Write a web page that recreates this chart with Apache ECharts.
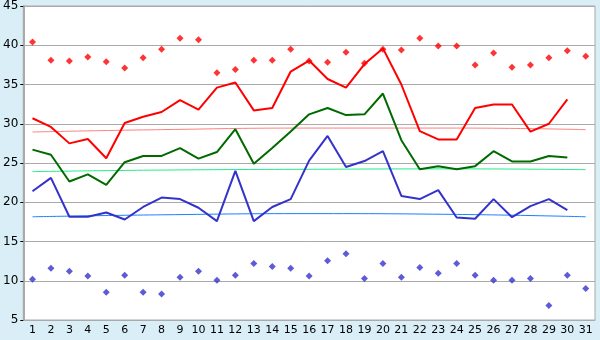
<!DOCTYPE html>
<html>
<head>
    <meta charset="UTF-8">
    <title></title>
    <script src="https://cdn.jsdelivr.net/npm/echarts@6/dist/echarts.min.js"></script>
    <style>
        *{margin:0;padding:0;}
        body,html{ width:600px; height:340px; background:#d9eef6; }
        #main{ width:600px; height:340px; }
    </style>
</head>
<body>
<div id="main"></div>
<script>
    // 日期 1..31
    var days = ['1','2','3','4','5','6','7','8','9','10','11','12','13','14','15','16',
        '17','18','19','20','21','22','23','24','25','26','27','28','29','30','31'];

    // 折线
    var redLine = [30.7,29.6,27.5,28.05,25.6,30.1,30.9,31.5,33.0,31.8,34.6,35.25,31.7,32.0,36.65,38.05,
        35.7,34.6,37.6,39.6,35.0,29.05,28.0,28.0,32.0,32.45,32.45,29.0,30.0,33.1,null];
    var greenLine = [26.7,26.05,22.65,23.55,22.2,25.1,25.9,25.9,26.9,25.55,26.4,29.3,24.9,26.9,29.0,31.2,
        32.0,31.1,31.2,33.85,27.9,24.2,24.6,24.2,24.6,26.5,25.2,25.2,25.9,25.7,null];
    var blueLine = [21.4,23.1,18.15,18.15,18.7,17.8,19.4,20.6,20.4,19.3,17.6,24.0,17.6,19.4,20.4,25.3,
        28.45,24.5,25.25,26.5,20.8,20.4,21.55,18.05,17.9,20.4,18.1,19.5,20.4,19.0,null];

    // 散点
    var redDots = [40.4,38.1,38.0,38.5,37.9,37.1,38.4,39.5,40.9,40.7,36.5,36.9,38.1,38.1,39.5,38.0,
        37.85,39.1,37.7,39.5,39.4,40.9,39.9,39.9,37.5,39.0,37.2,37.5,38.4,39.3,38.6];
    var blueDots = [10.2,11.6,11.2,10.6,8.55,10.7,8.55,8.3,10.45,11.2,10.05,10.7,12.2,11.8,11.6,10.6,
        12.55,13.45,10.3,12.2,10.45,11.7,10.95,12.2,10.7,10.05,10.05,10.3,6.85,10.7,9.0];

    // 趋势线 (只取几个点, 其余连接)
    var redTrend = [28.95,null,null,null,null,null,null,29.25,null,null,null,null,null,null,null,29.45,
        null,null,null,null,null,null,null,29.45,null,null,null,null,null,null,29.25];
    var greenTrend = [23.9,null,null,null,null,null,null,24.1,null,null,null,null,null,null,null,24.2,
        null,null,null,null,null,null,null,24.25,null,null,null,null,null,null,24.15];
    var blueTrend = [18.15,null,null,null,null,null,null,18.4,null,null,null,null,null,null,null,18.55,
        null,null,null,null,null,null,null,18.45,null,null,null,null,null,null,18.15];

    var myChart = echarts.init(document.getElementById('main'));

    function line(data, color, width, z){
        return { type:'line', data:data, symbol:'none', smooth:true, connectNulls:true,
            lineStyle:{color:color, width:width}, itemStyle:{color:color}, z:z, animation:false };
    }
    function dots(data, color){
        return { type:'scatter', data:data, symbol:'diamond', symbolSize:7,
            itemStyle:{color:color}, z:5, animation:false };
    }

    var option = {
        backgroundColor:'#d9eef6',
        textStyle:{ fontFamily:'DejaVu Sans' },
        grid:{ left:20, right:5, top:5, bottom:20, show:true, backgroundColor:'#ffffff',
            borderColor:'#aaaaaa', borderWidth:1 },
        xAxis:{
            type:'category', data:days, boundaryGap:true,
            axisLine:{ lineStyle:{color:'#aaaaaa', width:1} },
            axisTick:{ alignWithLabel:true, length:4, lineStyle:{color:'#000'} },
            axisLabel:{ color:'#000', fontSize:11, margin:5, interval:0 },
            splitLine:{ show:false }
        },
        yAxis:{
            type:'value', min:5, max:45, interval:5,
            axisLine:{ show:true, lineStyle:{color:'#aaaaaa', width:2} },
            axisTick:{ show:true, length:3, lineStyle:{color:'#000'} },
            axisLabel:{ color:'#000', fontSize:12, margin:5 },
            splitLine:{ lineStyle:{color:'#aaaaaa'} }
        },
        series:[
            line(redTrend, '#ff7f7f', 1, 2),
            line(greenTrend, '#22ee88', 1, 2),
            line(blueTrend, '#1a7fff', 1, 2),
            Object.assign(line(redLine, '#ff0000', 2, 3), {smooth:false}),
            Object.assign(line(greenLine, '#006a00', 2, 3), {smooth:false}),
            Object.assign(line(blueLine, '#3333cc', 2, 3), {smooth:false}),
            dots(redDots, '#ff0000'),
            dots(blueDots, '#3333cc')
        ]
    };
    myChart.setOption(option);
</script>
</body>
</html>
